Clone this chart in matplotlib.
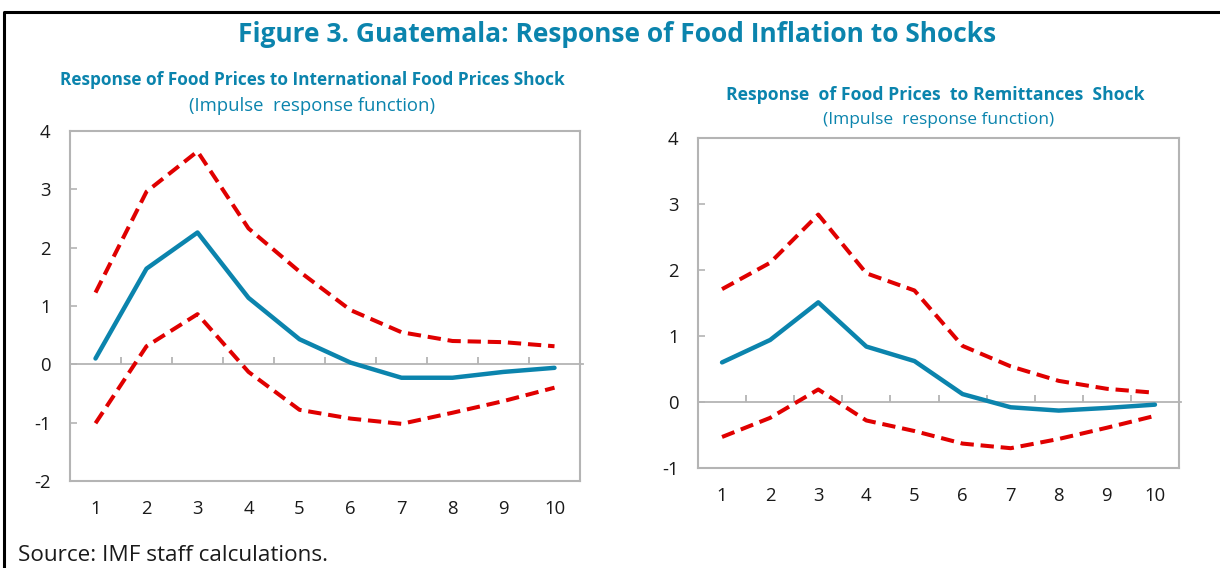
import numpy as np
import matplotlib.pyplot as plt
from matplotlib.lines import Line2D

plt.rcParams['font.family'] = ['Open Sans', 'DejaVu Sans']

periods = [1, 2, 3, 4, 5, 6, 7, 8, 9, 10]

# response to international food prices shock
intl_irf = [0.10, 1.64, 2.26, 1.14, 0.43, 0.03, -0.23, -0.23, -0.13, -0.06]
intl_upper = [1.23, 2.96, 3.65, 2.33, 1.59, 0.93, 0.55, 0.40, 0.38, 0.31]
intl_lower = [-1.01, 0.31, 0.86, -0.13, -0.78, -0.93, -1.02, -0.83, -0.63, -0.40]

# response to remittances shock
remit_irf = [0.60, 0.94, 1.51, 0.84, 0.62, 0.12, -0.08, -0.13, -0.09, -0.04]
remit_upper = [1.71, 2.11, 2.84, 1.95, 1.69, 0.85, 0.54, 0.32, 0.20, 0.14]
remit_lower = [-0.53, -0.24, 0.19, -0.28, -0.44, -0.63, -0.70, -0.56, -0.39, -0.21]

BLUE = '#0b84ad'
RED = '#e00000'
FRAME = '#b4b4b4'

W, H = 1220, 568
fig = plt.figure(figsize=(W / 100, H / 100), dpi=100)


def px_axes(left, top, right, bottom):
    return fig.add_axes([left / W, 1 - bottom / H, (right - left) / W, (bottom - top) / H])


def draw_panel(ax, irf, upper, lower, ylim):
    ax.plot(periods, upper, color=RED, lw=2.9, ls=(0, (3.3, 1.7)))
    ax.plot(periods, lower, color=RED, lw=2.9, ls=(0, (3.3, 1.7)))
    ax.plot(periods, irf, color=BLUE, lw=3.2, solid_capstyle='round')
    ax.set_xlim(0.5, 10.5)
    ax.set_ylim(*ylim)
    ax.set_yticks(range(ylim[0], ylim[1] + 1))
    ax.set_yticklabels([str(v) for v in range(ylim[0], ylim[1] + 1)])
    ax.set_xticks(periods)
    ax.tick_params(axis='both', labelsize=13.3, labelcolor='#1a1a1a')
    ax.tick_params(axis='x', length=0, pad=14)
    ax.tick_params(axis='y', direction='in', length=5, width=1.2, color=FRAME, pad=14)
    for s in ax.spines.values():
        s.set_color(FRAME)
        s.set_linewidth(1.5)
    # zero line with short category separators on top of it
    ax.add_line(Line2D([0, 1.005], [0, 0], color=FRAME, lw=1.3,
                       transform=ax.get_yaxis_transform(), clip_on=False, zorder=1))
    bbox = ax.get_window_extent()
    tick_h = 7 * (ylim[1] - ylim[0]) / bbox.height
    ax.vlines(np.arange(1.5, 10.5, 1), 0, tick_h, color=FRAME, lw=1.3, zorder=1)


ax1 = px_axes(70, 131, 580, 481)
draw_panel(ax1, intl_irf, intl_upper, intl_lower, (-2, 4))

ax2 = px_axes(698, 138, 1179, 468)
draw_panel(ax2, remit_irf, remit_upper, remit_lower, (-1, 4))

fig.text(617 / W, 1 - 34 / H, 'Figure 3. Guatemala: Response of Food Inflation to Shocks',
         ha='center', va='center', fontsize=19, fontweight='bold', color=BLUE)

fig.text(312 / W, 1 - 80 / H, 'Response of Food Prices to International Food Prices Shock',
         ha='center', va='center', fontsize=12.4, fontweight='bold', color=BLUE)
fig.text(312 / W, 1 - 106 / H, '(Impulse  response function)',
         ha='center', va='center', fontsize=13.3, color=BLUE)

fig.text(935 / W, 1 - 95 / H, 'Response  of Food Prices  to Remittances  Shock',
         ha='center', va='center', fontsize=12.7, fontweight='bold', color=BLUE)
fig.text(939 / W, 1 - 120 / H, '(Impulse  response function)',
         ha='center', va='center', fontsize=12.5, color=BLUE)

fig.text(18 / W, 1 - 561 / H, 'Source: IMF staff calculations.',
         ha='left', va='baseline', fontsize=16.2, color='#1a1a1a')

# outer box (top and left edges)
fig.add_artist(Line2D([4 / W, 4 / W, 1], [0, 1 - 12 / H, 1 - 12 / H],
                      color='black', lw=2.2, transform=fig.transFigure))

fig.savefig('out.png', dpi=100)
